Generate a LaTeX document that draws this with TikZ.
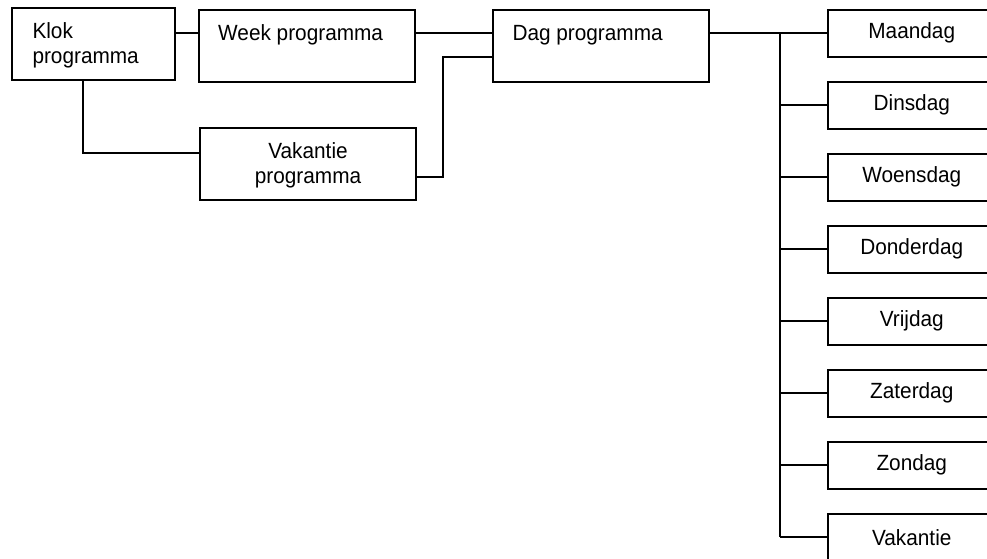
\documentclass[tikz,border=0pt]{standalone}
\usepackage{fontspec}
\setmainfont{Liberation Sans}[FakeStretch=0.945]
\begin{document}
\begin{tikzpicture}[x=1pt,y=-1pt,
  box/.style={draw, line width=2pt, rectangle, inner sep=0pt},
  lbl/.style={font=\fontsize{22}{25}\selectfont, inner sep=0pt},
  wire/.style={line width=2pt}]
\clip (0,0) rectangle (987,559);
\fill[white] (0,0) rectangle (987,559);
% left part
\node[box, anchor=north west, minimum width=162.4pt, minimum height=71.7pt] (klok) at (11.3,7.3) {};
\node[lbl, anchor=north west, align=left] (kloklbl) at (32.3,22.8) {Klok\\programma};
\node[box, anchor=north west, minimum width=216.6pt, minimum height=71.4pt] (week) at (197.7,9.3) {};
\node[lbl, anchor=base west] (weeklbl) at (218,40.5) {Week programma};
\node[box, anchor=north west, minimum width=216pt, minimum height=72.3pt] (vakprog) at (199,126.7) {};
\node[lbl, align=center] (vakproglbl) at ([yshift=-1pt]vakprog.center) {Vakantie\\programma};
\node[box, anchor=north west, minimum width=216pt, minimum height=71.7pt] (dag) at (491.7,9) {};
\node[lbl, anchor=base west] (daglbl) at (512.3,40.5) {Dag programma};
% right boxes
\foreach \i/\t in {0/Maandag,1/Dinsdag,2/Woensdag,3/Donderdag,4/Vrijdag,5/Zaterdag,6/Zondag,7/Vakantie}{
  \node[box, minimum width=168.5pt, minimum height=47.3pt] (d\i) at (911.75,33.25+72*\i) {};
  \node[lbl] (dl\i) at (d\i.center) {\t};
}
% connectors
\draw[wire] (klok.east |- 0,33.3) -- (week.west |- 0,33.3);
\draw[wire] (week.east |- 0,33.3) -- (dag.west |- 0,33.3);
\coordinate (vk1) at (443.3,176.7);
\coordinate (vk2) at (443.3,57.3);
\draw[wire] (vakprog.east |- vk1) -- (vk1) -- (vk2) -- (dag.west |- vk2);
\coordinate (kb) at (83.3,153.3);
\draw[wire] (klok.south -| kb) -- (kb) -- (vakprog.west |- kb);
\coordinate (ttop) at (780,33.25);
\coordinate (tbot) at (780,537.25);
\draw[wire] (dag.east |- d0) -- (d0.west);
\draw[wire] (ttop) -- (tbot);
\foreach \i in {1,...,7}{
  \draw[wire] (ttop |- d\i) -- (d\i.west);
}
\end{tikzpicture}
\end{document}
